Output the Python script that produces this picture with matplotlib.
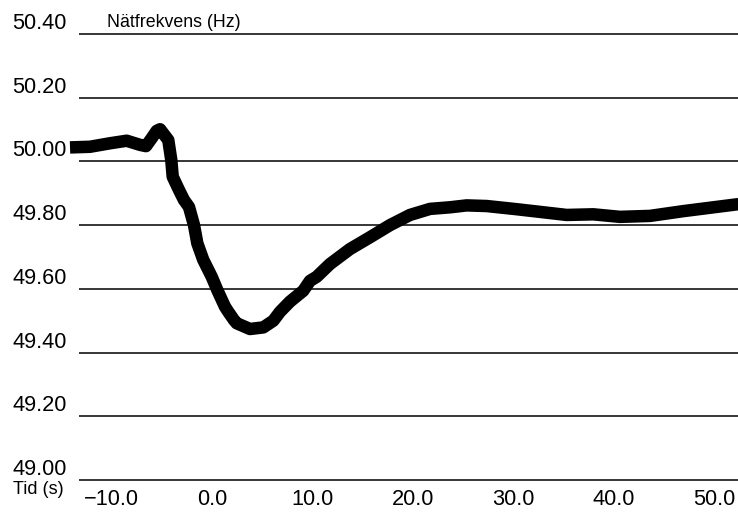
import matplotlib
matplotlib.use("Agg")
import matplotlib.pyplot as plt
from matplotlib.transforms import ScaledTranslation

plt.rcParams['font.family'] = ['Liberation Sans', 'DejaVu Sans']

# grid frequency after a production trip, seconds relative to the event
tid = [-14.13, -12.14, -10.15, -8.49, -7.16, -6.57, -6.00, -5.50, -5.17,
       -4.35, -4.05, -3.91, -3.28, -2.79, -2.29, -1.79, -1.46, -0.87,
       -0.03, 0.53, 1.29, 1.62, 2.19, 2.46, 3.78, 5.10, 6.10, 6.77, 7.76,
       9.08, 9.75, 10.42, 11.74, 13.73, 15.72, 17.71, 19.70, 21.69, 23.68,
       25.34, 27.33, 30.32, 35.29, 37.94, 40.60, 43.58, 46.90, 52.4]
frekvens = [50.044, 50.046, 50.057, 50.065, 50.052, 50.048, 50.073, 50.096,
            50.101, 50.067, 50.004, 49.952, 49.910, 49.879, 49.857, 49.800,
            49.743, 49.691, 49.638, 49.596, 49.544, 49.528, 49.502, 49.492,
            49.474, 49.479, 49.500, 49.528, 49.560, 49.594, 49.625, 49.638,
            49.678, 49.725, 49.762, 49.800, 49.832, 49.851, 49.856, 49.862,
            49.860, 49.850, 49.832, 49.834, 49.826, 49.829, 49.844, 49.866]

y_levels = [49.00, 49.20, 49.40, 49.60, 49.80, 50.00, 50.20, 50.40]
x_ticks = [-10, 0, 10, 20, 30, 40, 50]

W, H = 738, 514
fig = plt.figure(figsize=(W / 100, H / 100), dpi=100)
ax = fig.add_axes([70 / W, 34 / H, 668 / W, 446 / H])

xmin, xmax = -14.13, 52.34
ax.set_xlim(xmin, xmax)
ax.set_ylim(49.0, 50.4)

ax.hlines(y_levels, -13.2, xmax, colors='black', linewidth=1.1, clip_on=False)
ax.plot(tid, frekvens, color='black', linewidth=9.0, solid_joinstyle='round',
        solid_capstyle='butt', clip_on=False, zorder=3)

for s in ax.spines.values():
    s.set_visible(False)

ax.set_xticks(x_ticks)
ax.set_xticklabels([f"{v:.1f}".replace('-', '\u2212') for v in x_ticks])
ax.set_yticks(y_levels)
ax.set_yticklabels([f"{v:.2f}" for v in y_levels])
ax.tick_params(axis='x', length=0, pad=6.5, labelsize=15.7)
ax.tick_params(axis='y', length=0, pad=2.5, labelsize=15.7)

# value labels sit just above their grid lines
shift = ScaledTranslation(0, 0.13, fig.dpi_scale_trans)
for lbl in ax.get_yticklabels():
    lbl.set_transform(lbl.get_transform() + shift)

fig.text(107 / W, 1 - 27 / H, "Nätfrekvens (Hz)", fontsize=12.8, va='baseline')
fig.text(13 / W, 1 - 494 / H, "Tid (s)", fontsize=13, va='baseline')

fig.savefig("out.png", dpi=100)
